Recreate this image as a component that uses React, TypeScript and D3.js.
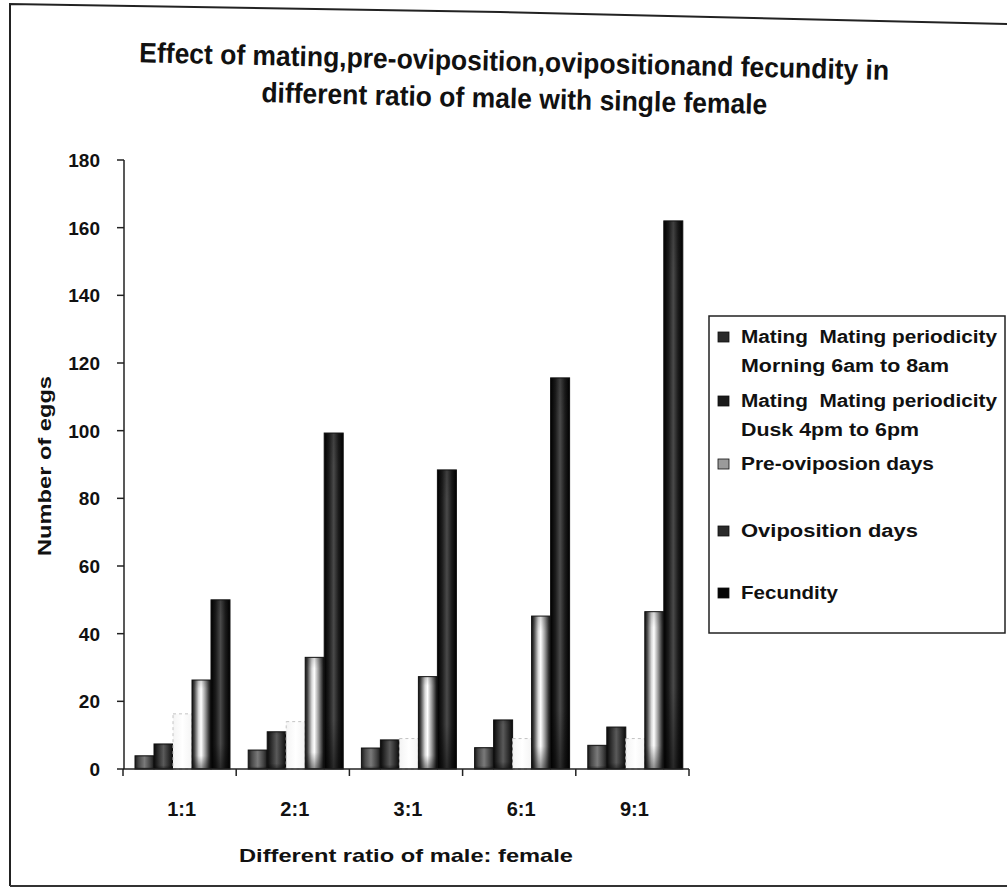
import React from "react";
import * as d3 from "d3";

const categories = ["1:1", "2:1", "3:1", "6:1", "9:1"];
const seriesNames = ["morning", "dusk", "pre", "ovi", "fec"];
const morning = [3.9, 5.6, 6.2, 6.3, 7];
const dusk = [7.4, 11, 8.6, 14.5, 12.4];
const preOvi = [16.3, 14, 9, 9, 9];
const ovi = [26.3, 33, 27.3, 45.2, 46.5];
const fecundity = [50, 99.3, 88.4, 115.6, 162];
const yTicks = [0, 20, 40, 60, 80, 100, 120, 140, 160, 180];
const legendLines = [
  ["Mating  Mating periodicity", "Morning 6am to 8am"],
  ["Mating  Mating periodicity", "Dusk 4pm to 6pm"],
  ["Pre-oviposion days"],
  ["Oviposition days"],
  ["Fecundity"],
];
const titleLines = [
  "Effect of mating,pre-oviposition,ovipositionand fecundity in",
  "different ratio of male with single female",
];

const seriesValues = [morning, dusk, preOvi, ovi, fecundity];

const FONT = "'Liberation Sans', Arial, sans-serif";

export default function App() {
  const y = d3.scaleLinear().domain([0, 180]).range([769, 160]);
  const x = d3.scaleBand().domain(categories).range([123, 689]).padding(0);
  const inner = d3
    .scaleBand()
    .domain(seriesNames)
    .range([12, 107])
    .padding(0);

  const gradients = [
    { id: "g-morning", stops: [["0%", "#1a1a1a"], ["20%", "#4a4a4a"], ["50%", "#7a7a7a"], ["80%", "#444"], ["100%", "#1a1a1a"]] },
    { id: "g-dusk", stops: [["0%", "#0a0a0a"], ["20%", "#2a2a2a"], ["50%", "#5a5a5a"], ["80%", "#2a2a2a"], ["100%", "#0a0a0a"]] },
    { id: "g-pre", stops: [["0%", "#f4f4f4"], ["50%", "#ffffff"], ["100%", "#f4f4f4"]] },
    { id: "g-ovi", stops: [["0%", "#111"], ["12%", "#444"], ["35%", "#d8d8d8"], ["48%", "#ffffff"], ["70%", "#9a9a9a"], ["90%", "#333"], ["100%", "#111"]] },
    { id: "g-fec", stops: [["0%", "#000"], ["25%", "#1c1c1c"], ["50%", "#4a4a4a"], ["75%", "#1c1c1c"], ["100%", "#000"]] },
  ];
  const fills = ["url(#g-morning)", "url(#g-dusk)", "url(#g-pre)", "url(#g-ovi)", "url(#g-fec)"];
  const legendColors = ["#2a2a2a", "#1a1a1a", "#9a9a9a", "#2a2a2a", "#050505"];
  const legendY = [343, 407, 470, 537, 599];
  const legendWidths = [[256, 208], [256, 178], [193], [177], [97]];

  return (
    <svg width={1007} height={890} style={{ display: "block", position: "absolute", left: 0, top: 0, background: "#fff" }}>
      <defs>
        {gradients.map((g) => (
          <linearGradient key={g.id} id={g.id} x1="0" x2="1" y1="0" y2="0">
            {g.stops.map(([o, c]) => (
              <stop key={o} offset={o} stopColor={c} />
            ))}
          </linearGradient>
        ))}
        <linearGradient id="g-shade" x1="0" x2="0" y1="0" y2="1">
          <stop offset="0%" stopColor="#000" stopOpacity={0.15} />
          <stop offset="10%" stopColor="#000" stopOpacity={0} />
          <stop offset="85%" stopColor="#000" stopOpacity={0} />
          <stop offset="100%" stopColor="#000" stopOpacity={0.45} />
        </linearGradient>
      </defs>

      {/* outer frame */}
      <path d="M10,886 L10,4 L500,12 L1007,24" fill="none" stroke="#222" strokeWidth={2} />
      <line x1={10} x2={1007} y1={886} y2={886} stroke="#333" strokeWidth={2} />

      {/* title */}
      <g transform="rotate(1.35, 514, 71)" fontFamily={FONT} fontWeight="bold" fill="#111">
        <text x={514} y={71} textAnchor="middle" fontSize={28} textLength={750} lengthAdjust="spacingAndGlyphs">
          {titleLines[0]}
        </text>
        <text x={515} y={108} textAnchor="middle" fontSize={28} textLength={506} lengthAdjust="spacingAndGlyphs">
          {titleLines[1]}
        </text>
      </g>

      {/* bars */}
      {categories.map((c, ci) => (
        <g key={c} transform={`translate(${x(c)},0)`}>
          {seriesNames.map((s, si) => {
            const v = seriesValues[si][ci];
            const bx = inner(s) as number;
            const bw = inner.bandwidth();
            const by = y(v);
            const bh = y(0) - y(v);
            if (s === "pre") {
              return (
                <rect key={s} x={bx} y={by} width={bw} height={bh} fill={fills[si]} stroke="#c4c4c4" strokeWidth={1} strokeDasharray="3,3" />
              );
            }
            return (
              <g key={s}>
                <rect x={bx} y={by} width={bw} height={bh} fill={fills[si]} />
                <rect x={bx} y={by} width={bw} height={bh} fill="url(#g-shade)" />
                <rect x={bx} y={by} width={bw} height={bh} fill="none" stroke="#111" strokeWidth={1} />
              </g>
            );
          })}
        </g>
      ))}

      {/* y axis */}
      <line x1={124} x2={124} y1={y(180)} y2={y(0)} stroke="#222" strokeWidth={1.5} />
      {yTicks.map((t) => (
        <g key={t}>
          <line x1={117} x2={124} y1={y(t)} y2={y(t)} stroke="#222" strokeWidth={1.5} />
          <text x={100} y={y(t) + 7} textAnchor="end" fontFamily={FONT} fontWeight="bold" fontSize={19} fill="#111">
            {t}
          </text>
        </g>
      ))}
      <text
        transform={`translate(51,466) rotate(-90)`}
        textAnchor="middle"
        fontFamily={FONT}
        fontWeight="bold"
        fontSize={19}
        fill="#111"
        textLength={180}
        lengthAdjust="spacingAndGlyphs"
      >
        Number of eggs
      </text>

      {/* x axis */}
      <line x1={123} x2={689} y1={y(0)} y2={y(0)} stroke="#222" strokeWidth={1.5} />
      {[...categories.map((c) => x(c) as number), 689].map((px, i) => (
        <line key={i} x1={px} x2={px} y1={y(0)} y2={y(0) + 7} stroke="#222" strokeWidth={1.5} />
      ))}
      {categories.map((c) => (
        <text key={c} x={(x(c) as number) + x.bandwidth() / 2 + 2} y={816} textAnchor="middle" fontFamily={FONT} fontWeight="bold" fontSize={20} fill="#111">
          {c}
        </text>
      ))}
      <text x={406} y={862} textAnchor="middle" fontFamily={FONT} fontWeight="bold" fontSize={19} fill="#111" textLength={334} lengthAdjust="spacingAndGlyphs">
        Different ratio of male: female
      </text>

      {/* legend */}
      <rect x={709} y={316} width={296} height={317} fill="#fff" stroke="#222" strokeWidth={1.5} />
      {legendLines.map((lines, i) => (
        <g key={i}>
          <rect x={718} y={legendY[i] - 11} width={11} height={10} fill={legendColors[i]} stroke="#111" strokeWidth={0.8} />
          {lines.map((l, li) => (
            <text
              key={li}
              x={741}
              y={legendY[i] + li * 29}
              fontFamily={FONT}
              fontWeight="bold"
              fontSize={18}
              fill="#111"
              style={{ whiteSpace: "pre" }}
              textLength={legendWidths[i][li]}
              lengthAdjust="spacingAndGlyphs"
            >
              {l}
            </text>
          ))}
        </g>
      ))}
    </svg>
  );
}
